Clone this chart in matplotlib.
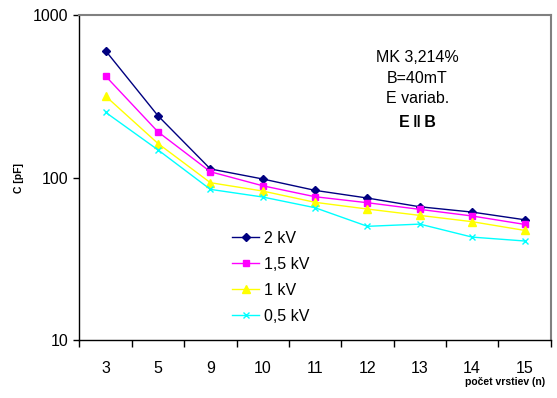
import numpy as np
import matplotlib; matplotlib.use('agg')
import matplotlib.pyplot as plt

plt.rcParams['font.family'] = ['Liberation Sans', 'DejaVu Sans']

# pocet vrstiev (n) and capacitance C [pF] for each voltage
layers = ['3', '5', '9', '10', '11', '12', '13', '14', '15']
c_2kv = [603, 240, 113, 98, 83.4, 74.8, 66.1, 61.3, 55]
c_15kv = [421, 191, 108.6, 89, 76.2, 70, 63.7, 58, 51.5]
c_1kv = [317, 162, 93, 82.6, 70.4, 64, 58.5, 53.5, 47.3]
c_05kv = [252, 148, 84.6, 75.9, 65.2, 50.1, 51.7, 43, 40.7]

labels = ['2 kV', '1,5 kV', '1 kV', '0,5 kV']
colors = ['#000080', '#ff00ff', '#ffff00', '#00ffff']
markers = ['D', 's', '^', 'x']
msizes = [4, 5, 6, 5]

fig = plt.figure(figsize=(5.57, 3.98), dpi=100)
ax = fig.add_axes([0.1427, 0.1457, 0.8460, 0.8163])

x = np.arange(len(layers))
for vals, lab, col, mk, ms in zip([c_2kv, c_15kv, c_1kv, c_05kv], labels, colors, markers, msizes):
    ax.plot(x, vals, color=col, marker=mk, markersize=ms, linewidth=1.0,
            markeredgewidth=1.0, label=lab)

ax.set_yscale('log')
ax.set_ylim(10, 1000)
ax.set_xlim(-0.5, len(layers) - 0.5)
ax.set_yticks([10, 100, 1000])
ax.set_yticklabels(['10', '100', '1000'])
ax.yaxis.set_minor_locator(plt.NullLocator())

# category ticks between the points, labels centred on the points
ax.set_xticks(np.arange(len(layers) + 1) - 0.5)
ax.set_xticklabels([])
ax.set_xticks(x, minor=True)
ax.set_xticklabels(layers, minor=True)
ax.tick_params(axis='x', which='major', direction='out', length=5, width=1, color='black')
ax.tick_params(axis='x', which='minor', length=0, pad=15, labelsize=11.5)
ax.tick_params(axis='y', which='major', direction='out', length=4, width=1, labelsize=11.5, pad=4)

for s in ['top', 'right']:
    ax.spines[s].set_color('#808080')
    ax.spines[s].set_linewidth(1.5)
for s in ['left', 'bottom']:
    ax.spines[s].set_color('black')
    ax.spines[s].set_linewidth(1.0)

ax.set_ylabel('C [pF]', fontsize=7.5, fontweight='bold')
ax.yaxis.set_label_coords(-0.118, 0.5)
fig.text(0.978, 0.04, 'počet vrstiev (n)', fontsize=7.5, fontweight='bold', ha='right', va='center')

fig.text(0.749, 0.804, 'MK 3,214%\nB=40mT\nE variab.', fontsize=11.5, ha='center', va='center',
         linespacing=1.47)
fig.text(0.749, 0.693, 'E\u2009\u2016\u2009B', fontsize=11.5, fontweight='bold', ha='center', va='center')

ax.legend(loc='upper left', bbox_to_anchor=(0.31, 0.355), frameon=False, fontsize=11.5,
          handlelength=1.7, handletextpad=0.3, labelspacing=0.68, borderaxespad=0)

fig.savefig('out.png', dpi=100)
